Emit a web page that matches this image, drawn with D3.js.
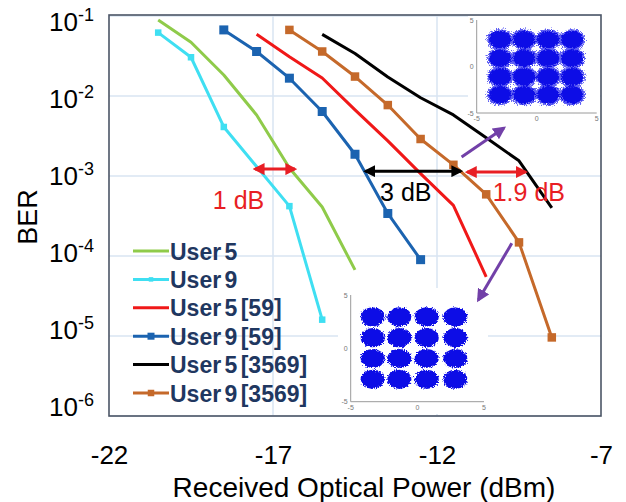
<!DOCTYPE html>
<html>
<head>
<meta charset="utf-8">
<script src="https://cdn.jsdelivr.net/npm/d3@7"></script>
<style>
  body { margin: 0; background: #fff; }
  svg { display: block; font-family: "Liberation Sans", Arial, sans-serif; }
</style>
</head>
<body>
<div class="chart"></div>
<script>
// ---- data ----
var xTicks = [-22, -17, -12, -7];
var yExps = [-1, -2, -3, -4, -5, -6];
var xGrid = [-17, -12];

var user5X = [-20.5, -19.5, -18.5, -17.5, -16.5, -15.5, -14.5];
var user5Ber = [8.9e-2, 4.7e-2, 1.83e-2, 5.8e-3, 1.26e-3, 4.1e-4, 6.7e-5];

var user9X = [-20.5, -19.5, -18.5, -16.5, -15.5];
var user9Ber = [6.2e-2, 3.05e-2, 4.1e-3, 4.2e-4, 1.6e-5];

var user5_59X = [-17.5, -16.5, -15.5, -14.5, -13.5, -12.5, -11.5, -10.5];
var user5_59Ber = [5.9e-2, 3.1e-2, 1.68e-2, 6.7e-3, 2.75e-3, 1.07e-3, 4.3e-4, 5.5e-5];

var user9_59X = [-18.5, -17.5, -16.5, -15.5, -14.5, -13.5, -12.5];
var user9_59Ber = [6.7e-2, 3.6e-2, 1.67e-2, 6.4e-3, 1.87e-3, 3.4e-4, 9.0e-5];

var user5_3569X = [-15.5, -14.5, -13.5, -12.5, -11.5, -10.5, -9.5, -8.5];
var user5_3569Ber = [5.9e-2, 3.4e-2, 1.73e-2, 9.5e-3, 5.8e-3, 3.0e-3, 1.55e-3, 4.0e-4];

var user9_3569X = [-16.5, -15.5, -14.5, -13.5, -12.5, -11.5, -10.5, -9.5, -8.5];
var user9_3569Ber = [6.7e-2, 3.6e-2, 1.75e-2, 7.7e-3, 2.9e-3, 1.38e-3, 5.9e-4, 1.48e-4, 9.6e-6];

var legendNames = ["User 5", "User 9", "User 5 [59]", "User 9 [59]", "User 5 [3569]", "User 9 [3569]"];

// 16-QAM cluster centres (in-phase / quadrature) for the two constellation insets
var qamUpperI = [-3.05, -1.05, 0.95, 2.95];
var qamUpperQ = [2.9, 0.9, -1.1, -3.05];
var qamLowerI = [-3.35, -1.35, 0.7, 2.85];
var qamLowerQ = [2.95, 1.0, -0.95, -2.9];
var insetTicks = [-5, 0, 5];

// annotations: [dBm, BER]
var gap1 = { from: [-17.55, 1.22e-3], to: [-16.33, 1.22e-3], label: "1 dB", at: [-18.05, 5.0e-4] };
var gap3 = { from: [-14.18, 1.15e-3], to: [-11.27, 1.15e-3], label: "3 dB", at: [-12.95, 6.3e-4] };
var gap19 = { from: [-11.08, 1.12e-3], to: [-9.3, 1.12e-3], label: "1.9 dB", at: [-9.2, 6.3e-4] };
var pointUp = { from: [-11.25, 1.73e-3], to: [-9.96, 3.98e-3] };
var pointDown = { from: [-9.72, 1.44e-4], to: [-10.74, 2.82e-5] };

function zip(xs, ys) { return xs.map(function (v, i) { return { x: v, y: ys[i] }; }); }

var series = [
  { name: legendNames[0], pts: zip(user5X, user5Ber), color: "#8fcb4a", marker: 0 },
  { name: legendNames[1], pts: zip(user9X, user9Ber), color: "#3fdff2", marker: 6.5 },
  { name: legendNames[2], pts: zip(user5_59X, user5_59Ber), color: "#f01818", marker: 0 },
  { name: legendNames[3], pts: zip(user9_59X, user9_59Ber), color: "#1b63b0", marker: 9 },
  { name: legendNames[4], pts: zip(user5_3569X, user5_3569Ber), color: "#000000", marker: 0 },
  { name: legendNames[5], pts: zip(user9_3569X, user9_3569Ber), color: "#c5692a", marker: 8.5 }
];

// ---- drawing ----
var W = 626, H = 502;
var plotL = 109, plotR = 601, plotT = 16, plotB = 416;

var svg = d3.select(".chart").append("svg").attr("width", W).attr("height", H);
var defs = svg.append("defs");

var x = d3.scaleLinear().domain([-22, -7]).range([plotL, plotR]);
var y = d3.scaleLog().domain([1e-6, 1e-1]).range([plotB, plotT]);
// the decade labels in the figure sit on a slightly tighter band than the grid
var yLab = d3.scaleLog().domain([1e-6, 1e-1]).range([406, 21]);

// grid
var grid = svg.append("g");
grid.selectAll("line.h").data(yExps).enter().append("line")
  .attr("x1", plotL).attr("x2", plotR)
  .attr("y1", function (d) { return y(Math.pow(10, d)); })
  .attr("y2", function (d) { return y(Math.pow(10, d)); })
  .style("stroke", "#d8e5f2").style("stroke-width", 1.5);
grid.selectAll("line.v").data(xGrid).enter().append("line")
  .attr("y1", plotT).attr("y2", plotB)
  .attr("x1", function (d) { return x(d); }).attr("x2", function (d) { return x(d); })
  .style("stroke", "#d8e5f2").style("stroke-width", 1.5);

// fuzzy-edge filter for the constellation blobs
var f = defs.append("filter").attr("id", "fuzz").attr("x", "-30%").attr("y", "-30%").attr("width", "160%").attr("height", "160%");
f.append("feTurbulence").attr("type", "fractalNoise").attr("baseFrequency", 0.9).attr("numOctaves", 2).attr("seed", 3).attr("result", "n");
f.append("feDisplacementMap").attr("in", "SourceGraphic").attr("in2", "n").attr("scale", 5).attr("xChannelSelector", "R").attr("yChannelSelector", "G");

var fb = defs.append("filter").attr("id", "haze").attr("x", "-30%").attr("y", "-30%").attr("width", "160%").attr("height", "160%");
fb.append("feTurbulence").attr("type", "fractalNoise").attr("baseFrequency", 1.4).attr("numOctaves", 1).attr("seed", 7).attr("result", "n");
fb.append("feDisplacementMap").attr("in", "SourceGraphic").attr("in2", "n").attr("scale", 9).attr("xChannelSelector", "R").attr("yChannelSelector", "G");

function drawInset(bg, box, qi, qq, rx, ry, haze) {
  var g = svg.append("g");
  g.append("rect").attr("x", bg[0]).attr("y", bg[1]).attr("width", bg[2]).attr("height", bg[3]).style("fill", "#fff");
  var ix = d3.scaleLinear().domain([-5, 5]).range([box[0], box[1]]);
  var iy = d3.scaleLinear().domain([-5, 5]).range([box[3], box[2]]);
  var pts = [];
  qq.forEach(function (q) { qi.forEach(function (i) { pts.push({ i: i, q: q }); }); });
  if (haze) {
    g.append("g").attr("filter", "url(#haze)").style("opacity", 0.75)
      .selectAll("ellipse").data(pts).enter().append("ellipse")
      .attr("cx", function (d) { return ix(d.i); }).attr("cy", function (d) { return iy(d.q); })
      .attr("rx", rx + 2).attr("ry", ry + 1.5).style("fill", "#2a2af0");
  }
  g.append("g").attr("filter", "url(#fuzz)")
    .selectAll("ellipse").data(pts).enter().append("ellipse")
    .attr("cx", function (d) { return ix(d.i); }).attr("cy", function (d) { return iy(d.q); })
    .attr("rx", rx).attr("ry", ry).style("fill", "#0a0ae6");
  g.append("line").attr("x1", box[0]).attr("x2", box[0]).attr("y1", box[2]).attr("y2", box[3]).style("stroke", "#9a9a9a");
  g.append("line").attr("x1", box[0]).attr("x2", box[1]).attr("y1", box[3]).attr("y2", box[3]).style("stroke", "#9a9a9a");
  g.selectAll("text.ix").data(insetTicks).enter().append("text")
    .attr("x", function (d) { return ix(d); }).attr("y", box[3] + 8)
    .attr("text-anchor", "middle").style("font-size", "7px").style("fill", "#777").text(function (d) { return d; });
  g.selectAll("text.iy").data(insetTicks).enter().append("text")
    .attr("x", box[0] - 3).attr("y", function (d) { return iy(d) + 2.5; })
    .attr("text-anchor", "end").style("font-size", "7px").style("fill", "#777").text(function (d) { return d; });
}

drawInset([468, 16, 132, 108], [476.7, 596.7, 20, 113], qamUpperI, qamUpperQ, 11, 8.8, true);
drawInset([338, 288, 150, 126], [350.7, 484, 295, 401.7], qamLowerI, qamLowerQ, 12, 9.6, false);

// frame
svg.append("rect").attr("x", plotL).attr("y", plotT - 1).attr("width", plotR - plotL).attr("height", plotB - plotT + 1)
  .style("fill", "none").style("stroke", "#4b5566").style("stroke-width", 1.6);

// curves
var line = d3.line().x(function (d) { return x(d.x); }).y(function (d) { return y(d.y); });
var curves = svg.append("g");
series.forEach(function (s) {
  curves.append("path").datum(s.pts).attr("d", line)
    .style("fill", "none").style("stroke", s.color).style("stroke-width", 3).style("stroke-linejoin", "round");
  if (s.marker) {
    curves.selectAll(null).data(s.pts).enter().append("rect")
      .attr("x", function (d) { return x(d.x) - s.marker / 2; })
      .attr("y", function (d) { return y(d.y) - s.marker / 2; })
      .attr("width", s.marker).attr("height", s.marker)
      .style("fill", s.color);
  }
});

// arrows
function arrowMarker(id, color, size) {
  defs.append("marker").attr("id", id).attr("viewBox", "0 0 10 10").attr("refX", 8).attr("refY", 5)
    .attr("markerWidth", size).attr("markerHeight", size).attr("markerUnits", "userSpaceOnUse")
    .attr("orient", "auto-start-reverse")
    .append("path").attr("d", "M0,0 L10,5 L0,10 Z").style("fill", color);
}
arrowMarker("ar", "#e81e24", 12);
arrowMarker("ak", "#000", 12);
arrowMarker("ap", "#7240a8", 13);

function drawArrow(a, color, id, both) {
  var p = svg.append("line")
    .attr("x1", x(a.from[0])).attr("y1", y(a.from[1]))
    .attr("x2", x(a.to[0])).attr("y2", y(a.to[1]))
    .style("stroke", color).style("stroke-width", 3)
    .attr("marker-end", "url(#" + id + ")");
  if (both) p.attr("marker-start", "url(#" + id + ")");
}
drawArrow(gap1, "#e81e24", "ar", true);
drawArrow(gap3, "#000", "ak", true);
drawArrow(gap19, "#e81e24", "ar", true);
drawArrow(pointUp, "#7240a8", "ap", false);
drawArrow(pointDown, "#7240a8", "ap", false);

[[gap1, "#e81e24"], [gap3, "#000"], [gap19, "#e81e24"]].forEach(function (g) {
  svg.append("text").attr("x", x(g[0].at[0])).attr("y", y(g[0].at[1]) + 9)
    .attr("text-anchor", "middle").style("font-size", "25px").style("fill", g[1]).text(g[0].label);
});

// legend
var lg = svg.append("g");
series.forEach(function (s, i) {
  var ly = 251 + i * 28.4;
  lg.append("line").attr("x1", 133).attr("x2", 169).attr("y1", ly).attr("y2", ly)
    .style("stroke", s.color).style("stroke-width", 3);
  if (s.marker) {
    var m = s.marker - 2;
    lg.append("rect").attr("x", 151 - m / 2).attr("y", ly - m / 2).attr("width", m).attr("height", m).style("fill", s.color);
  }
  lg.append("text").attr("x", 170).attr("y", ly + 8.5)
    .style("font-size", "23px").style("font-weight", "bold").style("fill", "#1f3760")
    .style("word-spacing", "-3px").text(s.name);
});

// x axis
var xAxis = d3.axisBottom(x).tickValues(xTicks).tickSize(0).tickPadding(30)
  .tickFormat(function (d) { return d; });
var xg = svg.append("g").attr("transform", "translate(0," + plotB + ")").call(xAxis);
xg.select(".domain").remove();
xg.selectAll("text").style("font-size", "26px").style("fill", "#000")
  .style("font-family", "'Liberation Sans', Arial, sans-serif");

// y tick labels as 10^n
var yl = svg.append("g");
yExps.forEach(function (e) {
  var t = yl.append("text").attr("x", 94).attr("y", yLab(Math.pow(10, e)) + 9.5)
    .attr("text-anchor", "end").style("fill", "#000");
  t.append("tspan").style("font-size", "26px").text("10");
  t.append("tspan").style("font-size", "18px").attr("dy", -10).text(e);
});

// axis titles
svg.append("text").attr("x", 364).attr("y", 497).attr("text-anchor", "middle")
  .style("font-size", "28px").text("Received Optical Power (dBm)");
svg.append("text").attr("transform", "translate(37,217) rotate(-90)").attr("text-anchor", "middle")
  .style("font-size", "27px").text("BER");
</script>
</body>
</html>
